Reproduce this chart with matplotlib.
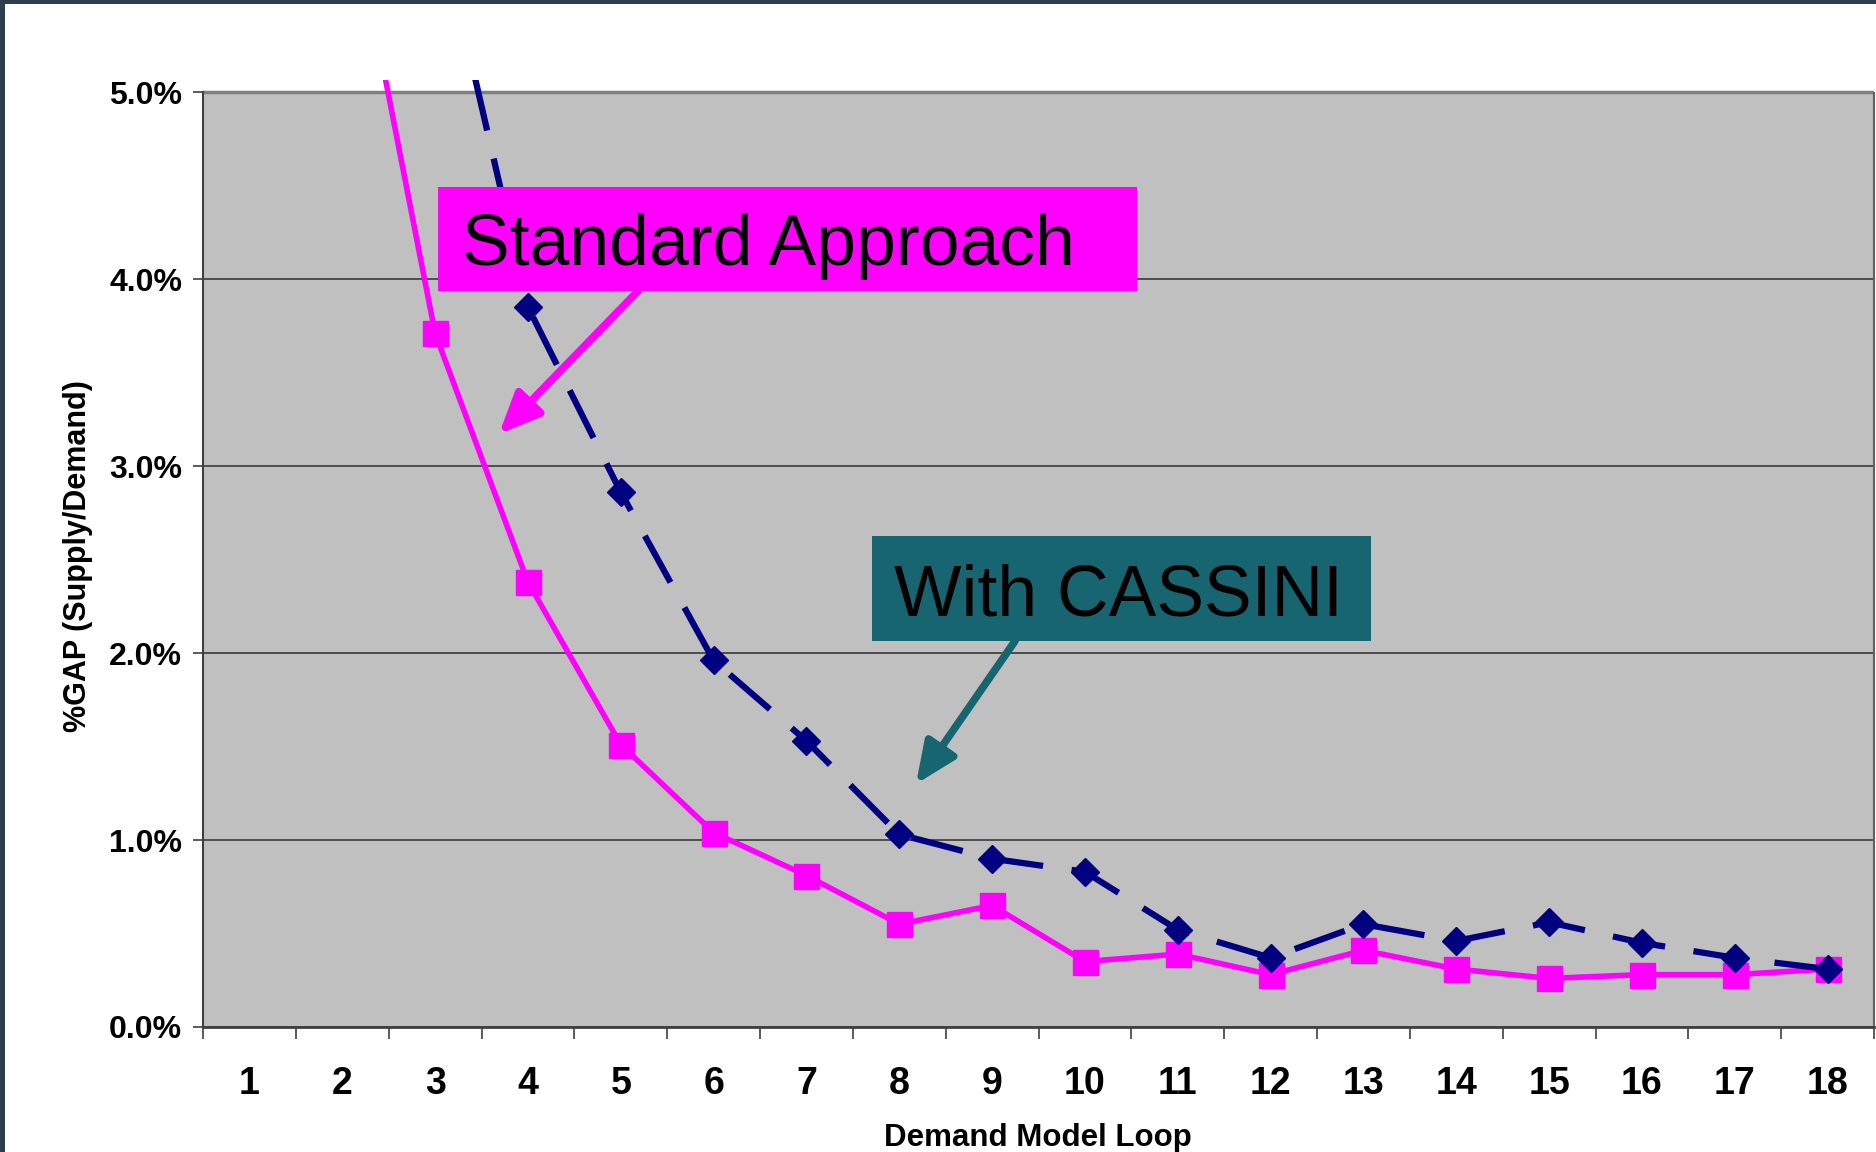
import matplotlib
matplotlib.use("Agg")
import matplotlib.pyplot as plt
from matplotlib.patches import Rectangle
from matplotlib.ticker import FuncFormatter

# demand model loops and %GAP values (in percent)
loops = list(range(1, 19))
standard_gap = [9.5, 6.25, 3.71, 2.38, 1.51, 1.04, 0.81, 0.55, 0.65,
                0.35, 0.39, 0.28, 0.41, 0.31, 0.26, 0.28, 0.28, 0.31]
cassini_gap = [12.0, 8.5, 6.0, 3.85, 2.86, 1.96, 1.53, 1.03, 0.90,
               0.83, 0.52, 0.37, 0.55, 0.46, 0.56, 0.45, 0.37, 0.31]
y_ticks = [0, 1, 2, 3, 4, 5]

W, H = 1876, 1152


def fx(px):
    return px / W


def fy(py):
    return 1 - py / H


plt.rcParams["font.family"] = ["Liberation Sans", "DejaVu Sans"]
plt.rcParams["font.weight"] = "bold"

fig = plt.figure(figsize=(W / 100, H / 100), dpi=100)
fig.patch.set_facecolor("white")

# gray plot block spans y 92..1027 px, the axes go a bit higher so lines poke out
ax_top, gray_top, ax_bot = 80, 92, 1027
ax = fig.add_axes([fx(203), fy(ax_bot), (1874 - 203) / W, (ax_bot - ax_top) / H])
ymax = 5 * (ax_bot - ax_top) / (ax_bot - gray_top)
ax.set_xlim(0.5, 18.5)
ax.set_ylim(0, ymax)
ax.set_facecolor("white")
ax.axhspan(0, 5, color="#c0c0c0", zorder=0)

for s in ["top", "right"]:
    ax.spines[s].set_visible(False)
ax.spines["left"].set_bounds(0, 5)
ax.spines["left"].set_color("#404040")
ax.spines["left"].set_linewidth(1.5)
ax.spines["bottom"].set_color("#404040")
ax.spines["bottom"].set_linewidth(2)

ax.set_yticks(y_ticks)
ax.yaxis.set_major_formatter(FuncFormatter(lambda v, p: "%.1f%%" % v))
ax.yaxis.grid(True, color="#3a3a3a", linewidth=1.2, zorder=1)
ax.set_axisbelow(True)
ax.axhline(5, color="#808080", linewidth=2.5, zorder=1)
ax.vlines(18.5, 0, 5, color="#606060", linewidth=1.5, clip_on=False)

ax.set_xticks([k + 0.5 for k in range(19)])
ax.set_xticklabels([])
ax.set_xticks(loops, minor=True)
ax.set_xticklabels([str(v) for v in loops], minor=True)
ax.tick_params(axis="x", which="major", length=8.5, width=1.2, color="#404040")
ax.tick_params(axis="x", which="minor", length=0, pad=28, labelsize=27)
ax.tick_params(axis="y", length=7, width=1.2, color="#404040", pad=8, labelsize=23)

ax.plot(loops, standard_gap, color="#ff00ff", linewidth=4, marker="s",
        markersize=18, zorder=3)
ax.plot(loops, cassini_gap, color="#000080", linewidth=4.5, dashes=(8.5, 4.6),
        marker="D", markersize=14.5, zorder=4)

fig.text(fx(78), fy(556), "%GAP (Supply/Demand)", rotation=90, ha="center",
         va="center", fontsize=22, fontweight="bold")
fig.text(fx(1038), fy(1138), "Demand Model Loop", ha="center", va="center",
         fontsize=22.5, fontweight="bold")

# callout boxes
callouts = [
    ("Standard Approach", "#ff00ff", (438, 187, 1137, 291), (462, 265),
     (638, 291), (499, 434)),
    ("With CASSINI", "#176570", (872, 536, 1371, 641), (894, 616),
     (1015, 641), (916, 784)),
]
for label, col, (x0, y0, x1, y1), (tx, ty), start, tip in callouts:
    fig.add_artist(Rectangle((fx(x0), fy(y1)), (x1 - x0) / W, (y1 - y0) / H,
                             transform=fig.transFigure, facecolor=col,
                             edgecolor="none", zorder=5))
    fig.text(fx(tx), fy(ty), label, fontsize=51.5, fontweight="normal",
             ha="left", va="baseline", color="black", zorder=6)
    ax.annotate("", xy=(fx(tip[0]), fy(tip[1])), xycoords="figure fraction",
                xytext=(fx(start[0]), fy(start[1])), textcoords="figure fraction",
                arrowprops=dict(arrowstyle="-|>,head_length=1.25,head_width=0.55",
                                mutation_scale=20, color=col, lw=5.5,
                                shrinkA=0, shrinkB=0),
                zorder=6, annotation_clip=False)

# dark slide frame on the left and top edges
fig.add_artist(Rectangle((0, 0), fx(5), 1, transform=fig.transFigure,
                         facecolor="#2d3e4e", edgecolor="none", zorder=10))
fig.add_artist(Rectangle((0, fy(4)), 1, 4 / H, transform=fig.transFigure,
                         facecolor="#2d3e4e", edgecolor="none", zorder=10))

fig.savefig("out.png", dpi=100)
